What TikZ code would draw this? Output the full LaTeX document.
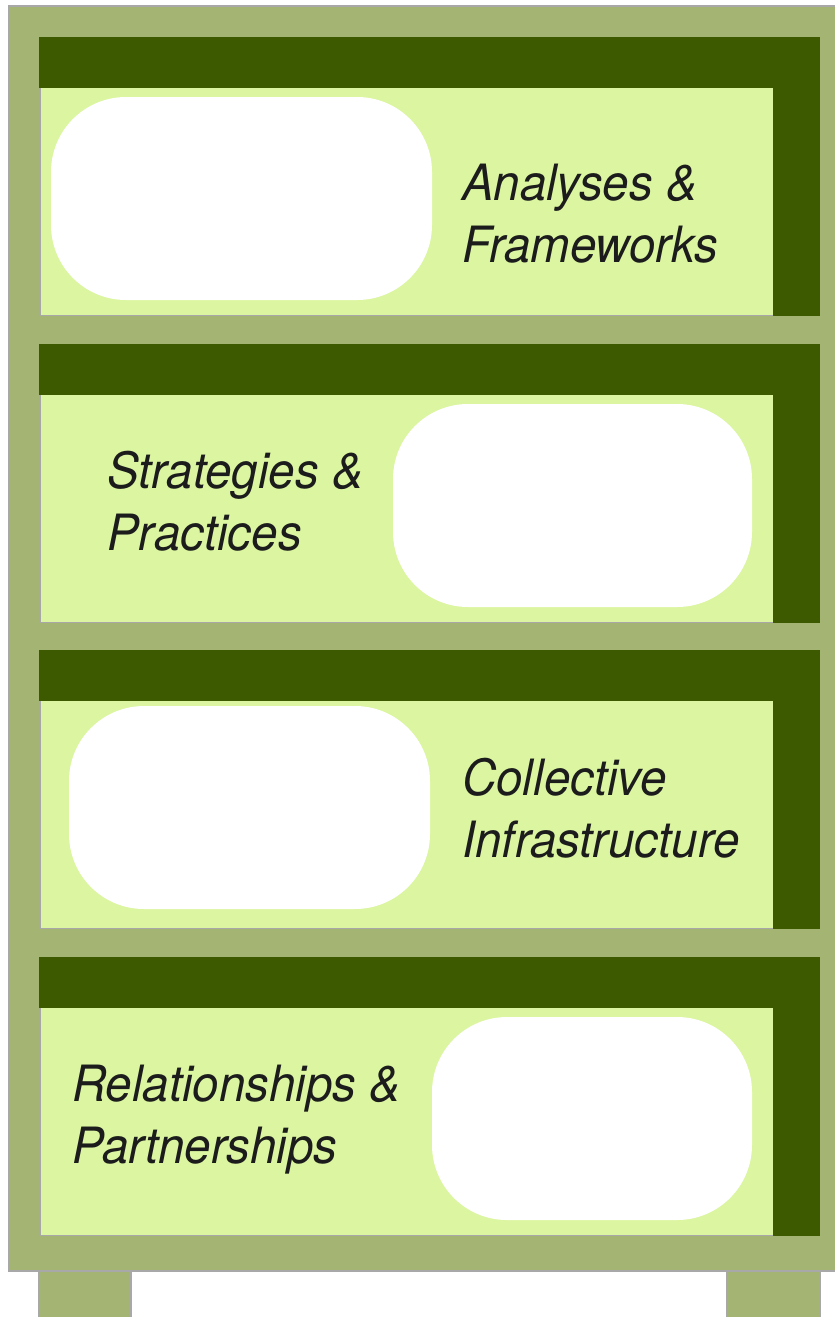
\documentclass[tikz,border=0pt]{standalone}
\usepackage{fontspec}
\newfontfamily\shelffont{TeX Gyre Heros}[FakeStretch=0.95]
\definecolor{oak}{HTML}{A3B473}
\definecolor{rim}{HTML}{A8A8A8}
\definecolor{moss}{HTML}{3D5A00}
\definecolor{leaf}{HTML}{DBF5A0}
\definecolor{ink}{HTML}{1C1C1C}
\tikzset{
    frame/.style={fill=oak, draw=rim, line width=1.5pt},
    panel/.style={fill=leaf},
    lip/.style={fill=moss},
    slot/.style={fill=white, rounded corners=75pt, inner sep=0pt, minimum height=203pt},
    tag/.style={font=\shelffont\itshape\fontsize{50}{62}\selectfont, text=ink, align=left, anchor=base west, inner sep=0pt}
}

\begin{document}
\begin{tikzpicture}[x=1pt, y=-1pt]
    \useasboundingbox (0,0) rectangle (835,1317);
    % legs and cabinet
    \draw[frame] (39,1260) rectangle (131,1330);
    \draw[frame] (727,1260) rectangle (820,1330);
    \draw[frame] (9,6) rectangle (845,1271);
    % four shelves
    \foreach \t in {37, 344, 650, 957} {
        \fill[panel] (39,\t) rectangle (820,\t+279);
        \draw[rim, line width=1.5pt] (39.75,\t+51) |- (773,\t+278.25);
        \fill[lip] (39,\t) rectangle (820,\t+51);
        \fill[lip] (773,\t) rectangle (820,\t+279);
    }
    % boxes
    \node[slot, minimum width=381pt] (slotA) at (241.5,198.5) {};
    \node[slot, minimum width=359pt] (slotB) at (572.5,505.5) {};
    \node[slot, minimum width=361pt] (slotC) at (249.5,807.5) {};
    \node[slot, minimum width=320pt] (slotD) at (592,1118.5) {};
    % shelf labels (anchored on the last line)
    \node[tag] (tagA) at (462,262) {Analyses \&\\Frameworks};
    \node[tag] (tagB) at (107,550) {Strategies \&\\Practices};
    \node[tag] (tagC) at (462,857) {Collective\\Infrastructure};
    \node[tag] (tagD) at (72,1163) {Relationships \&\\Partnerships};
\end{tikzpicture}
\end{document}
